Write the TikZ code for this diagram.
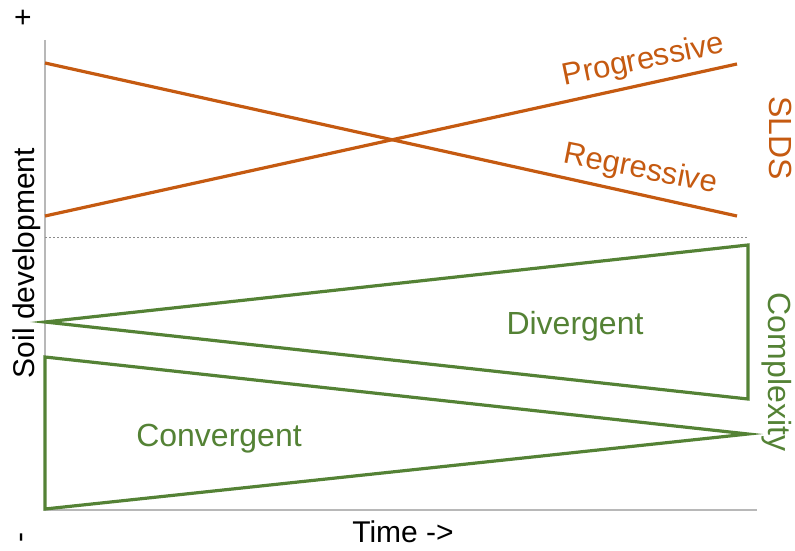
\documentclass[tikz,border=0pt]{standalone}
\usepackage{fontspec}
\setmainfont{Liberation Sans}
\definecolor{sldsorange}{HTML}{C55A11}
\definecolor{cplxgreen}{HTML}{548235}

\begin{document}
\begin{tikzpicture}
	  [x=1pt,y=-1pt,every node/.style={inner sep=0pt},
	   lbl/.style={font=\fontsize{32}{34}\selectfont},
	   axislbl/.style={font=\fontsize{30}{32}\selectfont},
	   axisline/.style={draw=black!28,line width=2pt},
	   trend/.style={draw=sldsorange,line width=3.2pt},
	   wedge/.style={draw=cplxgreen,line width=3.2pt,line join=miter}]
	  \useasboundingbox (0,0) rectangle (795,551);

	  % axes
	  \coordinate (top) at (45,40);
	  \coordinate (origin) at (45,510);
	  \coordinate (tend) at (757,510);
	  \draw[axisline] (top) -- (origin) -- (tend);
	  \draw[black!45,line width=0.7pt,dash pattern=on 2pt off 2pt] (45,237) -- (747,237);

	  \node[axislbl] (plus) at (23,19) {+};
	  \node[axislbl,rotate=90] (minus) at (25,537) {-};
	  \node[axislbl,rotate=90,anchor=base] (ylab) at (34,263) {Soil development};
	  \node[axislbl,anchor=base] (xlab) at (403,542) {Time ->};

	  % SLDS
	  \coordinate (r0) at (45,63);
	  \coordinate (r1) at (737,216);
	  \coordinate (p0) at (45,216);
	  \coordinate (p1) at (737,64);
	  \draw[trend] (r0) -- (r1);
	  \draw[trend] (p0) -- (p1);
	  \node[lbl,font=\fontsize{31}{33}\selectfont,text=sldsorange,rotate=11.7,anchor=base] (prog) at (645,69) {Progressive};
	  \node[lbl,font=\fontsize{31}{33}\selectfont,text=sldsorange,rotate=-11.2,anchor=base] (regr) at (639,178) {Regressive};
	  \node[lbl,text=sldsorange,rotate=-90,anchor=base] (slds) at (769,138) {SLDS};

	  % complexity
	  \coordinate (d0) at (45,322);
	  \coordinate (d1) at (748,245);
	  \coordinate (d2) at (748,399);
	  \coordinate (c0) at (45,357);
	  \coordinate (c1) at (748,434);
	  \coordinate (c2) at (45,509);
	  \draw[wedge] (d0) -- (d1) -- (d2) -- cycle;
	  \draw[wedge] (c0) -- (c1) -- (c2) -- cycle;
	  \node[lbl,text=cplxgreen,anchor=base] (div) at (575,334) {Divergent};
	  \node[lbl,text=cplxgreen,anchor=base] (conv) at (219,446) {Convergent};
	  \node[lbl,text=cplxgreen,rotate=-90,anchor=base] (cplx) at (768,372) {Complexity};
	\end{tikzpicture}
\end{document}
